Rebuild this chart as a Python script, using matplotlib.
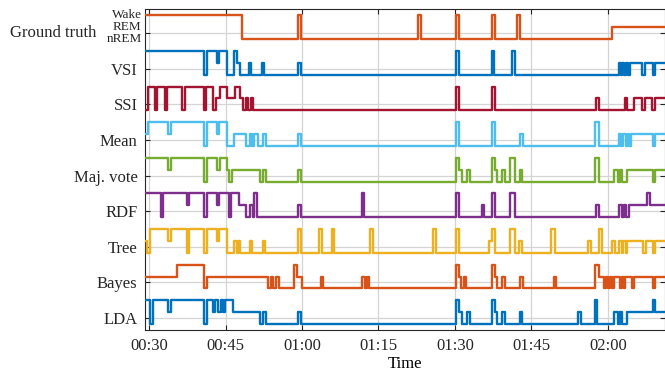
import matplotlib
matplotlib.use("Agg")
import matplotlib.pyplot as plt

plt.rcParams['font.family'] = ['Liberation Serif', 'DejaVu Serif']
plt.rcParams['font.size'] = 12

# time in minutes after midnight, state: 0 = nREM, 1 = REM, 2 = Wake
T_START = 29.1
T_END = 131.2

gt_t = [29.1, 48.3, 59.25, 59.75, 82.75, 83.25, 90.2, 90.7, 97.35, 97.85, 102.25, 102.75, 120.8]
gt_s = [2, 0, 2, 0, 2, 0, 2, 0, 2, 0, 2, 0, 1]

vsi_t = [29.1, 40.8, 41.3, 43.25, 43.75, 45.25, 46.75, 47.25, 47.75, 49.55, 50.05, 52.1, 52.6,
         59.25, 59.75, 90.2, 90.7, 97.25, 97.75, 101.25, 101.75, 122.1, 122.5, 122.8, 123.2,
         123.5, 123.9, 124.25, 126.75, 127.25, 128.75, 129.25]
vsi_s = [2, 0, 2, 1, 2, 0, 2, 1, 0, 1, 0, 1, 0, 1, 0, 2, 0, 2, 0, 2, 0, 1, 0, 1, 0, 1, 0, 1,
         0, 1, 0, 1]

ssi_t = [29.1, 29.85, 31.1, 31.6, 33.1, 33.6, 36.5, 37.0, 40.75, 41.25, 42.55, 43.05, 43.9,
         45.35, 46.85, 47.85, 48.5, 49.0, 49.5, 49.9, 50.45, 90.2, 90.7, 97.35, 97.85, 117.75,
         118.25, 123.3, 123.8, 125.1, 126.75, 127.25, 128.7, 129.2]
ssi_s = [0, 2, 0, 2, 0, 2, 0, 2, 0, 2, 0, 1, 2, 1, 2, 1, 0, 1, 0, 1, 0, 2, 0, 2, 0, 1, 0, 1,
         0, 1, 0, 1, 0, 1]

mean_t = [29.1, 29.7, 33.75, 34.25, 40.8, 41.3, 43.25, 43.75, 45.3, 46.75, 48.95, 49.7, 50.25,
          50.55, 51.3, 52.25, 52.95, 59.25, 59.75, 90.2, 90.7, 97.35, 97.85, 102.75, 103.25,
          117.4, 118.3, 122.1, 122.6, 123.0, 123.5, 123.9, 124.2, 124.5, 128.8, 129.3]
mean_s = [1, 2, 1, 2, 0, 2, 1, 2, 0, 1, 0, 1, 0, 1, 0, 1, 0, 1, 0, 2, 0, 2, 0, 1, 0, 2, 0, 1,
          0, 1, 0, 1, 0, 1, 0, 1]

maj_t = [29.1, 33.75, 34.25, 40.8, 41.3, 43.3, 43.85, 45.3, 45.7, 46.2, 51.8, 52.3, 52.9,
         59.25, 59.75, 90.2, 90.7, 91.3, 92.4, 92.95, 97.35, 97.85, 98.3, 99.2, 99.8, 100.85,
         101.7, 102.7, 103.2, 117.4, 118.3, 121.25, 121.9, 122.35, 122.85, 123.65, 128.75, 129.25]
maj_s = [2, 1, 2, 0, 2, 1, 2, 1, 0, 1, 0, 1, 0, 1, 0, 2, 1, 0, 1, 0, 2, 1, 0, 1, 0, 2, 0, 1,
         0, 2, 0, 1, 0, 1, 0, 1, 0, 1]

rdf_t = [29.1, 32.3, 32.8, 37.35, 37.85, 40.8, 41.3, 43.3, 43.8, 45.6, 46.1, 47.7, 48.95,
         49.75, 50.3, 50.6, 51.25, 59.25, 59.75, 71.75, 72.25, 90.2, 90.7, 95.25, 95.75, 97.35,
         97.85, 100.85, 101.7, 117.75, 118.25, 122.1, 122.7, 123.1, 123.6, 124.2, 127.75, 128.25]
rdf_s = [2, 0, 2, 1, 2, 0, 2, 1, 2, 0, 2, 1, 0, 1, 0, 2, 0, 1, 0, 2, 0, 2, 0, 1, 0, 2, 0, 2,
         0, 1, 0, 1, 0, 1, 0, 1, 2, 1]

tree_t = [29.1, 29.6, 30.15, 33.75, 34.25, 37.35, 37.85, 40.8, 41.3, 43.3, 43.8, 45.3, 46.7,
          47.15, 47.45, 47.9, 49.75, 50.25, 52.25, 52.75, 59.25, 59.75, 63.35, 63.85, 65.8,
          66.3, 73.35, 73.85, 85.75, 86.25, 90.2, 90.7, 96.6, 97.2, 97.8, 100.85, 101.7,
          102.65, 103.15, 108.8, 109.6, 116.15, 116.65, 118.25, 118.75, 120.8, 121.3, 122.1,
          122.7, 123.0, 123.5, 123.8, 126.95, 127.45, 128.75, 129.25]
tree_s = [1, 0, 2, 1, 2, 0, 2, 0, 2, 1, 2, 0, 1, 0, 1, 0, 1, 0, 1, 0, 2, 0, 2, 0, 2, 0, 2, 0,
          2, 0, 2, 0, 1, 2, 0, 2, 0, 1, 0, 2, 0, 1, 0, 2, 0, 1, 0, 1, 0, 1, 0, 1, 0, 1, 0, 1]

bayes_t = [29.1, 35.4, 40.8, 41.3, 53.3, 53.9, 54.4, 54.9, 55.5, 58.45, 58.95, 59.9, 63.65,
           64.15, 71.85, 72.4, 72.65, 73.2, 90.2, 90.7, 91.2, 91.7, 92.2, 97.35, 97.85, 98.3,
           99.2, 99.8, 102.7, 103.3, 109.4, 109.9, 117.4, 118.3, 119.3, 119.7, 120.1, 120.4,
           120.9, 121.2, 122.4, 122.7, 123.1, 123.4, 124.8, 125.1, 128.75, 129.25]
bayes_s = [1, 2, 0, 1, 0, 1, 0, 1, 0, 2, 1, 0, 1, 0, 1, 0, 1, 0, 2, 1, 0, 1, 0, 2, 1, 0, 1, 0,
           1, 0, 1, 0, 2, 1, 0, 1, 0, 1, 0, 1, 0, 1, 0, 1, 0, 1, 0, 1]

lda_t = [29.1, 30.2, 30.7, 33.75, 34.25, 40.8, 41.3, 42.5, 42.95, 43.6, 44.05, 44.5, 44.9,
         46.4, 51.7, 52.3, 52.95, 59.25, 59.75, 90.2, 90.7, 91.3, 92.4, 92.95, 97.35, 97.85,
         98.3, 99.2, 99.8, 102.7, 103.2, 114.2, 114.7, 117.4, 117.9, 121.25, 121.9, 122.35,
         122.85, 123.65, 128.75, 129.25]
lda_s = [2, 0, 2, 1, 2, 0, 2, 1, 2, 1, 2, 1, 2, 1, 0, 1, 0, 1, 0, 2, 1, 0, 1, 0, 2, 1, 0, 1,
         0, 1, 0, 1, 0, 2, 0, 1, 0, 1, 0, 1, 2, 1]

# bottom to top
row_names = ['LDA', 'Bayes', 'Tree', 'RDF', 'Maj. vote', 'Mean', 'SSI', 'VSI', 'Ground truth']
row_times = [lda_t, bayes_t, tree_t, rdf_t, maj_t, mean_t, ssi_t, vsi_t, gt_t]
row_states = [lda_s, bayes_s, tree_s, rdf_s, maj_s, mean_s, ssi_s, vsi_s, gt_s]
row_colors = ['#0072BD', '#D95319', '#EDB120', '#7E2F8E', '#77AC30',
              '#4DBEEE', '#A2142F', '#0072BD', '#D95319']
stage_names = ['nREM', 'REM', 'Wake']

xtick_pos = [30, 45, 60, 75, 90, 105, 120]
xtick_lab = ['00:30', '00:45', '01:00', '01:15', '01:30', '01:45', '02:00']

fig = plt.figure(figsize=(6.65, 3.73), dpi=100)
ax = fig.add_axes([144.5 / 665, 43 / 373, 520.5 / 665, 320.7 / 373])

for k in range(len(row_names)):
    t = row_times[k] + [T_END]
    y = [3 * k - 0.5 + s for s in row_states[k]]
    y = y + [y[-1]]
    ax.step(t, y, where='post', color=row_colors[k], lw=1.7, zorder=3)

ax.set_xlim(T_START, T_END)
ax.set_ylim(-1, 26)
ax.set_xticks(xtick_pos)
ax.set_xticklabels(xtick_lab)
ax.set_yticks([3 * k for k in range(len(row_names))])
ax.set_yticklabels(row_names[:-1] + [''])
ax.set_xlabel('Time', labelpad=1)

# ground truth label and its stage names
gt_row = len(row_names) - 1
ax.annotate(row_names[-1], xy=(0, 3 * gt_row), xycoords=('axes fraction', 'data'),
            xytext=(-35, 0), textcoords='offset points', ha='right', va='center',
            color='#262626')
for s, name in enumerate(stage_names):
    ax.annotate(name, xy=(0, 3 * gt_row - 0.5 + s), xycoords=('axes fraction', 'data'),
                xytext=(-2, 0), textcoords='offset points', ha='right', va='center',
                fontsize=9.5, color='#262626')

ax.grid(True, color='#d4d4d4', lw=0.9, zorder=0)
ax.set_axisbelow(True)
ax.tick_params(direction='in', length=3.5, width=0.8, top=True, right=True,
               colors='#262626')
ax.tick_params(axis='x', pad=6)
ax.tick_params(axis='y', pad=5)
for sp in ax.spines.values():
    sp.set_color('#262626')
    sp.set_linewidth(0.8)

fig.savefig('out.png', dpi=100)
